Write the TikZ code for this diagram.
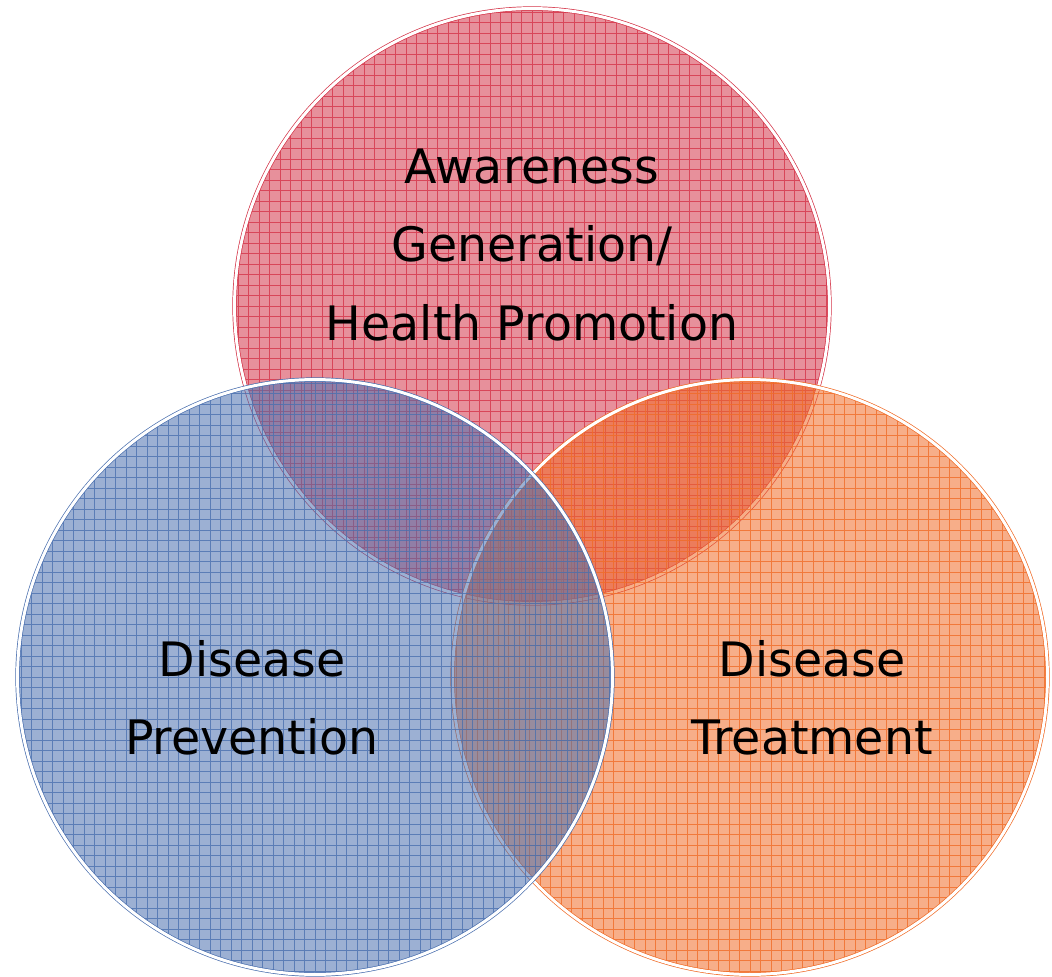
\documentclass[tikz,border=0pt]{standalone}
\usepackage{fontspec}
\setmainfont{DejaVu Sans}
\usepackage{xcolor}
\usepackage{tikz}
\usetikzlibrary{positioning}
\definecolor{awarered}{RGB}{212,52,72}
\definecolor{prevblue}{RGB}{75,112,175}
\definecolor{treatorange}{RGB}{240,108,40}
\newcommand{\vennfont}{\fontsize{27}{44.5}\selectfont}

\begin{document}
\begin{tikzpicture}[x=0.02cm,y=-0.02cm,
  venn/.style={circle,minimum size=11.9cm,inner sep=0pt,fill=#1,fill opacity=0.55,
               draw=#1,line width=0.4pt,double=white,double distance=1.7pt,
               path picture={\draw[draw=#1,line width=0.5pt,draw opacity=0.8]
                 (path picture bounding box.south west) grid[step=0.21cm]
                 (path picture bounding box.north east);}},
  lbl/.style={font=\vennfont,align=center,text=black,inner sep=0pt}]

  \useasboundingbox (0,0) rectangle (1052,977);

  % ---------- circles ----------
  \node[venn=awarered]    (aware) at (532,306) {};
  \node[venn=treatorange] (treat) at (750,677) {};
  \node[venn=prevblue]    (prev)  at (315,677) {};

  % ---------- labels ----------
  \node[lbl] (awaretext) at (532,245) {Awareness\\Generation/\\Health Promotion};
  \node[lbl] (prevtext)  at (252,698) {Disease\\Prevention};
  \node[lbl] (treattext) at (812,698) {Disease\\Treatment};
\end{tikzpicture}
\end{document}
